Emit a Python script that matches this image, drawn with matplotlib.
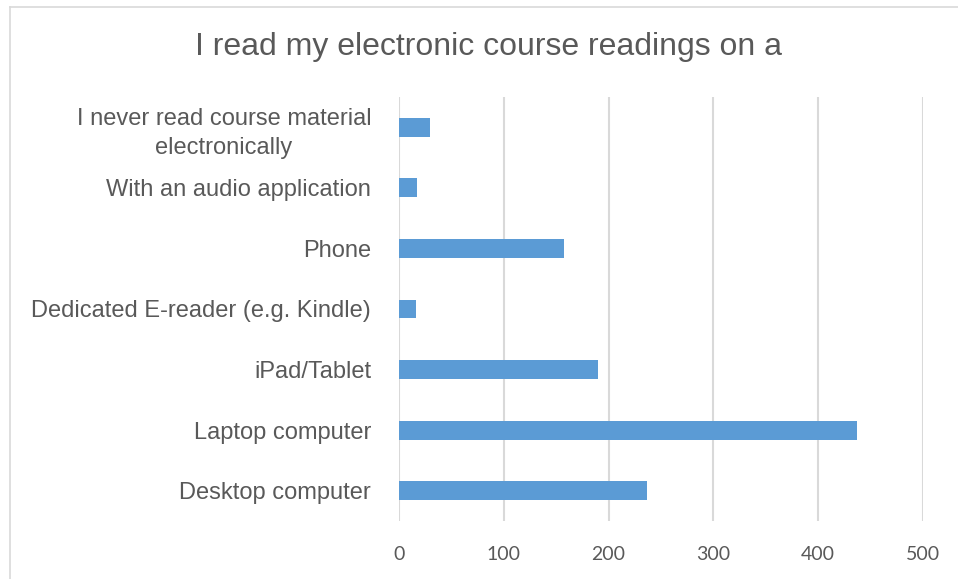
import matplotlib.pyplot as plt
from matplotlib.lines import Line2D

categories = ['Desktop computer', 'Laptop computer', 'iPad/Tablet',
              'Dedicated E-reader (e.g. Kindle)', 'Phone',
              'With an audio application',
              'I never read course material\nelectronically']
counts = [237, 437, 190, 16, 157, 17, 30]
xticks = [0, 100, 200, 300, 400, 500]

text_col = '#595959'
bar_col = '#5b9bd5'

fig = plt.figure(figsize=(9.58, 5.79), dpi=100)
# chart frame: only left and top edges show in the crop
bx, by = 9.5 / 958, 1 - 7 / 579
fig.add_artist(Line2D([bx, bx], [0, by], transform=fig.transFigure, color='#d9d9d9', lw=1.2))
fig.add_artist(Line2D([bx, 1], [by, by], transform=fig.transFigure, color='#d9d9d9', lw=1.2))

ax = fig.add_axes([399 / 958, 1 - 521 / 579, 524 / 958, 424 / 579])

ypos = range(len(categories))
ax.barh(ypos, counts, height=0.31, color=bar_col, zorder=3)
ax.set_xlim(0, 500)
ax.set_ylim(-0.5, len(categories) - 0.5)
ax.set_xticks(xticks)
ax.set_xticklabels([str(t) for t in xticks], fontfamily='Lato', fontsize=14, color=text_col)
ax.set_yticks(list(ypos))
ax.set_yticklabels(categories, fontfamily='Liberation Sans', fontsize=17, color=text_col)
for lab in ax.get_yticklabels():
    lab.set_multialignment('center')
    lab.set_linespacing(1.4)
ax.tick_params(axis='both', length=0)
ax.tick_params(axis='x', pad=18)
ax.tick_params(axis='y', pad=20)
ax.grid(axis='x', color='#d9d9d9', linewidth=1.5, zorder=0)
for s in ax.spines.values():
    s.set_visible(False)

fig.text(488 / 958, 1 - 47 / 579, 'I read my electronic course readings on a',
         ha='center', va='center', fontsize=23, fontfamily='Liberation Sans', color=text_col)

fig.savefig('out.png', dpi=100)
